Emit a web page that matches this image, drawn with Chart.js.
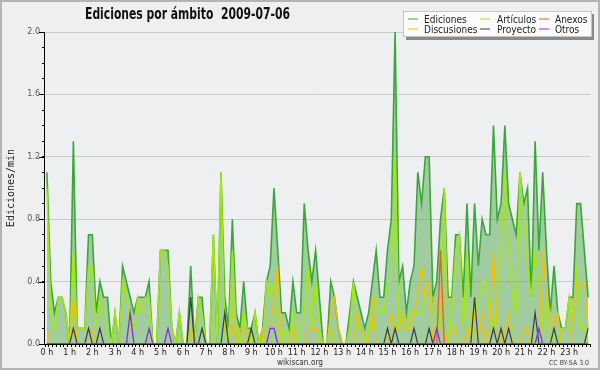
<!DOCTYPE html>
<html><head><meta charset="utf-8">
<script src="https://cdn.jsdelivr.net/npm/chart.js@4/dist/chart.umd.min.js"></script>
<style>
html,body{margin:0;padding:0;background:#efefef;}
canvas{display:block;}
</style></head><body>
<canvas id="c" width="600" height="370"></canvas>
<script>
// ---- data (edits per minute, 10-minute bins) ----
const hourLabels = ['0 h','1 h','2 h','3 h','4 h','5 h','6 h','7 h','8 h','9 h','10 h','11 h',
  '12 h','13 h','14 h','15 h','16 h','17 h','18 h','19 h','20 h','21 h','22 h','23 h'];
const slots = [];
for (let h = 0; h < 24; h++) for (let m = 0; m < 60; m += 10) slots.push(h + ':' + String(m).padStart(2,'0'));

const ediciones = [
 1.1,0.4,0.2,0.3,0.3,0.2, 0.0,1.3,0.1,0.1,0.1,0.7,
 0.7,0.2,0.4,0.3,0.3,0.0, 0.2,0.0,0.5,0.4,0.3,0.2,
 0.3,0.3,0.3,0.4,0.0,0.0, 0.6,0.6,0.6,0.1,0.0,0.2,
 0.0,0.0,0.5,0.0,0.3,0.3, 0.0,0.0,0.7,0.0,1.1,0.3,
 0.1,0.8,0.2,0.1,0.4,0.1, 0.1,0.2,0.0,0.1,0.4,0.5,
 1.0,0.6,0.2,0.2,0.1,0.4, 0.2,0.2,0.9,0.6,0.4,0.6,
 0.3,0.0,0.0,0.4,0.3,0.1, 0.0,0.0,0.2,0.4,0.3,0.2,
 0.1,0.2,0.4,0.6,0.3,0.3, 0.6,0.8,2.0,0.4,0.5,0.2,
 0.4,0.5,1.1,0.9,1.2,1.2, 0.3,0.4,0.8,1.0,0.3,0.3,
 0.7,0.7,0.3,0.9,0.3,0.9, 0.5,0.8,0.7,0.7,1.4,0.8,
 0.9,1.4,0.9,0.8,0.7,1.1, 0.9,1.0,0.3,1.3,0.6,1.1,
 0.6,0.2,0.5,0.2,0.1,0.1, 0.3,0.3,0.9,0.9,0.6,0.3
];
const articulos = [
 1.0,0.2,0.1,0.3,0.3,0.2, 0,0.6,0.1,0.1,0.1,0.5,
 0.5,0.1,0.3,0.2,0.1,0, 0.2,0,0.4,0.3,0.1,0.1,
 0.3,0.2,0.3,0.3,0,0, 0.6,0.6,0.5,0.1,0,0.2,
 0,0,0.1,0,0.3,0.2, 0,0,0.7,0,1.1,0.1,
 0,0.6,0.1,0,0.2,0.1, 0,0.2,0,0,0.4,0.3,
 0.4,0.1,0,0.1,0,0.2, 0,0.1,0.2,0.5,0.1,0.4,
 0.1,0,0,0.1,0,0, 0,0,0.1,0.4,0.1,0.1,
 0,0.1,0.1,0.3,0.2,0.2, 0.4,0.4,1.2,0.1,0.2,0.1,
 0.2,0.2,0.2,0.2,0.3,0.3, 0.3,0.1,0.1,1.0,0,0.2,
 0.6,0.7,0.1,0.6,0.1,0.2, 0.3,0.4,0.4,0.2,0.1,0.3,
 0.6,1.1,0.6,0.3,0.2,1.1, 0.8,0.5,0.3,0.6,0.4,0.1,
 0.3,0,0.1,0,0.1,0.1, 0.3,0.1,0.5,0.1,0.1,0
];
const discusiones = [
 0.1,0,0,0,0,0, 0,0.3,0,0,0,0,
 0.1,0,0,0,0,0, 0,0,0,0,0,0,
 0,0,0,0,0,0, 0,0,0,0,0,0,
 0,0,0.1,0,0,0, 0,0,0,0,0,0,
 0,0.2,0,0.1,0.1,0, 0,0,0,0.1,0,0.1,
 0.3,0.5,0,0,0,0.1, 0,0,0,0.1,0.1,0.1,
 0,0,0,0.2,0.3,0.1, 0,0,0,0,0.2,0.1,
 0,0,0.3,0,0,0, 0,0.2,0.1,0.1,0.2,0.1,
 0.1,0.2,0.3,0.5,0.3,0.4, 0,0.1,0.1,0,0,0.1,
 0.1,0,0,0.1,0,0.2, 0,0.2,0,0.1,0.6,0.1,
 0,0.1,0.2,0,0,0, 0.1,0.1,0,0,0,0.6,
 0.3,0.2,0.1,0.2,0,0, 0,0.2,0.4,0.4,0.4,0.1
];
const anexos = [
 0,0,0,0,0,0, 0,0,0,0,0,0,
 0,0,0,0,0,0, 0,0,0,0,0,0,
 0,0,0,0,0,0, 0,0,0,0,0,0,
 0,0,0,0,0,0, 0,0,0,0,0,0,
 0,0,0,0,0,0, 0,0,0,0,0,0,
 0,0,0,0,0,0, 0,0,0,0,0,0,
 0,0,0,0,0,0, 0,0,0,0,0,0,
 0,0,0,0,0,0, 0,0,0,0,0,0,
 0,0,0,0,0,0, 0,0,0.6,0,0,0,
 0,0,0,0,0,0, 0,0,0,0,0,0,
 0,0,0,0,0,0, 0,0,0,0,0,0,
 0,0,0,0,0,0, 0,0,0,0,0,0
];
const proyecto = [
 0,0,0,0,0,0, 0,0.1,0,0,0,0.1,
 0,0,0.1,0,0,0, 0,0,0,0,0,0,
 0,0,0,0,0,0, 0,0,0,0,0,0,
 0,0,0.3,0,0,0.1, 0,0,0,0,0,0.2,
 0,0,0,0,0,0, 0.1,0,0,0,0,0,
 0,0,0,0,0,0, 0,0,0,0,0,0,
 0,0,0,0,0,0, 0,0,0,0,0,0,
 0,0,0,0,0,0, 0.1,0,0.1,0,0,0,
 0,0.1,0,0,0,0.1, 0,0,0,0,0,0,
 0,0,0,0,0,0.3, 0,0,0,0,0.1,0,
 0.1,0,0.1,0,0,0, 0,0,0,0.2,0,0,
 0,0,0.1,0,0,0, 0,0,0,0,0,0.1
];
const otros = [
 0,0,0,0,0,0, 0,0,0,0,0,0,
 0,0,0,0,0,0, 0,0,0,0,0.2,0,
 0,0,0,0.1,0,0, 0,0,0.1,0,0,0,
 0,0,0,0,0,0, 0,0,0,0,0,0,
 0,0,0,0,0,0, 0,0,0,0,0,0.1,
 0.1,0,0,0,0,0, 0,0,0,0,0,0,
 0,0,0,0,0,0, 0,0,0,0,0,0,
 0,0,0,0,0,0, 0,0,0,0,0,0,
 0,0,0,0,0,0, 0,0.1,0,0,0,0,
 0,0,0,0,0,0, 0,0,0,0,0,0,
 0,0,0,0,0,0, 0,0,0,0,0.1,0,
 0,0,0,0,0,0, 0,0,0,0,0,0
];

// ---- styling ----
const C = {
  edLine:'#38a838', edFill:'rgba(83,169,79,0.5)',
  art:'#a6e80a', disc:'#f2c200', anex:'#f05a1e', proy:'#3c3c3c', otros:'#8a2be2'
};

function fitText(ctx, text, x, y, w, font, color){
  ctx.save();
  ctx.font = font; ctx.fillStyle = color;
  ctx.textAlign = 'left'; ctx.textBaseline = 'alphabetic';
  const m = ctx.measureText(text).width;
  ctx.translate(x, y); ctx.scale(w / m, 1);
  ctx.fillText(text, 0, 0);
  ctx.restore();
}

const deco = {
  id: 'deco',
  beforeDraw(chart){
    const {ctx, chartArea: a} = chart;
    ctx.save();
    ctx.fillStyle = '#efefef'; ctx.fillRect(0, 0, 600, 370);
    ctx.fillStyle = '#edeff1'; ctx.fillRect(a.left, a.top, a.right - a.left, a.bottom - a.top);
    ctx.restore();
  },
  afterDatasetsDraw(chart){
    const {ctx, chartArea: a, scales} = chart;
    ctx.save();
    ctx.strokeStyle = '#000'; ctx.lineWidth = 1;
    ctx.beginPath();
    ctx.moveTo(a.left - 0.5, a.top); ctx.lineTo(a.left - 0.5, a.bottom + 0.5);
    ctx.lineTo(a.right, a.bottom + 0.5);
    ctx.stroke();
    for (let k = 0; k <= 20; k += 4) {
      const y = Math.round(scales.y.getPixelForValue(k / 10)) + 0.5;
      ctx.beginPath(); ctx.moveTo(a.left - 6, y); ctx.lineTo(a.left, y); ctx.stroke();
    }
    ctx.restore();
  },
  afterDraw(chart){
    const {ctx} = chart;
    fitText(ctx, 'Ediciones por ámbito  2009-07-06', 85, 19, 205, 'bold 15px "DejaVu Sans"', '#111');
    ctx.save();
    ctx.translate(14, 188); ctx.rotate(-Math.PI / 2);
    ctx.font = '10px "DejaVu Sans Mono"'; ctx.fillStyle = '#222';
    ctx.textAlign = 'center'; ctx.textBaseline = 'alphabetic';
    ctx.fillText('Ediciones/min', 0, 0);
    ctx.restore();
    fitText(ctx, 'wikiscan.org', 277, 365, 46, '9px "DejaVu Sans"', '#333');
    fitText(ctx, 'CC BY-SA 3.0', 549, 365, 40, '7px "DejaVu Sans"', '#444');
    ctx.save();
    ctx.fillStyle = '#8a8a8a'; ctx.fillRect(406, 14, 188, 26);
    ctx.fillStyle = '#fbfbfb'; ctx.fillRect(403, 11, 189, 26);
    ctx.strokeStyle = '#c4c4c4'; ctx.lineWidth = 1; ctx.strokeRect(403.5, 11.5, 188, 25);
    const items = [
      ['Ediciones', C.edLine, 0, 0], ['Artículos', C.art, 1, 0], ['Anexos', C.anex, 2, 0],
      ['Discusiones', C.disc, 0, 1], ['Proyecto', C.proy, 1, 1], ['Otros', C.otros, 2, 1]
    ];
    const lineX = [408, 480, 539], textX = [424, 497, 555], rowY = [19, 29];
    items.forEach(([lab, col, c, r]) => {
      ctx.strokeStyle = col; ctx.lineWidth = 1;
      ctx.beginPath(); ctx.moveTo(lineX[c], rowY[r]); ctx.lineTo(lineX[c] + 10, rowY[r]); ctx.stroke();
      ctx.save();
      ctx.font = '10px "DejaVu Sans"'; ctx.fillStyle = '#222';
      ctx.translate(textX[c], rowY[r] + 3.5); ctx.scale(0.9, 1);
      ctx.fillText(lab, 0, 0);
      ctx.restore();
    });
    ctx.restore();
    ctx.save();
    ctx.strokeStyle = '#b4b4b4'; ctx.lineWidth = 2;
    ctx.strokeRect(1, 1, 598, 368);
    ctx.restore();
  }
};

const line = (label, data, color, width, order) => ({
  label, data, borderColor: color, borderWidth: width, pointRadius: 0,
  tension: 0, fill: false, order
});

new Chart(document.getElementById('c'), {
  type: 'line',
  data: {
    labels: slots,
    datasets: [
      { label: 'Ediciones', data: ediciones, borderColor: C.edLine, backgroundColor: C.edFill,
        borderWidth: 1.6, pointRadius: 0, tension: 0, fill: 'origin', order: 10 },
      line('Artículos', articulos, C.art, 1.5, 5),
      line('Discusiones', discusiones, C.disc, 1.3, 4),
      line('Anexos', anexos, C.anex, 1.3, 3),
      line('Proyecto', proyecto, C.proy, 1.2, 2),
      line('Otros', otros, C.otros, 1.3, 1)
    ]
  },
  options: {
    responsive: false, animation: false, devicePixelRatio: 1, events: [],
    layout: { padding: { left: 0, right: 10, top: 32, bottom: 12 } },
    plugins: { legend: { display: false }, title: { display: false }, tooltip: { enabled: false } },
    scales: {
      x: {
        type: 'category', offset: true,
        grid: { offset: true, drawOnChartArea: false, tickLength: 3, tickColor: '#000', lineWidth: 1 },
        border: { display: false },
        ticks: {
          autoSkip: false, maxRotation: 0, minRotation: 0, padding: 1,
          font: { family: 'DejaVu Sans', size: 8 }, color: '#222',
          callback: (v, i) => (i % 6 === 0 ? hourLabels[i / 6] : '')
        },
        afterFit: s => { s.height = 14; }
      },
      y: {
        min: 0, max: 2,
        afterBuildTicks: s => { const t = []; for (let k = 0; k <= 20; k++) t.push({ value: k / 10 }); s.ticks = t; },
        grid: {
          tickLength: 3, tickColor: '#000',
          color: c => { const k = Math.round(c.tick.value * 10); return (k > 0 && k % 4 === 0) ? '#cacaca' : 'rgba(0,0,0,0)'; }
        },
        border: { display: false },
        ticks: {
          padding: 2, font: { family: 'DejaVu Sans', size: 8 }, color: '#555',
          callback: v => { const k = Math.round(v * 10); return k % 4 === 0 ? (k / 10).toFixed(1) : ''; }
        },
        afterFit: s => { s.width = 45; }
      }
    }
  },
  plugins: [deco]
});
</script>
</body></html>
